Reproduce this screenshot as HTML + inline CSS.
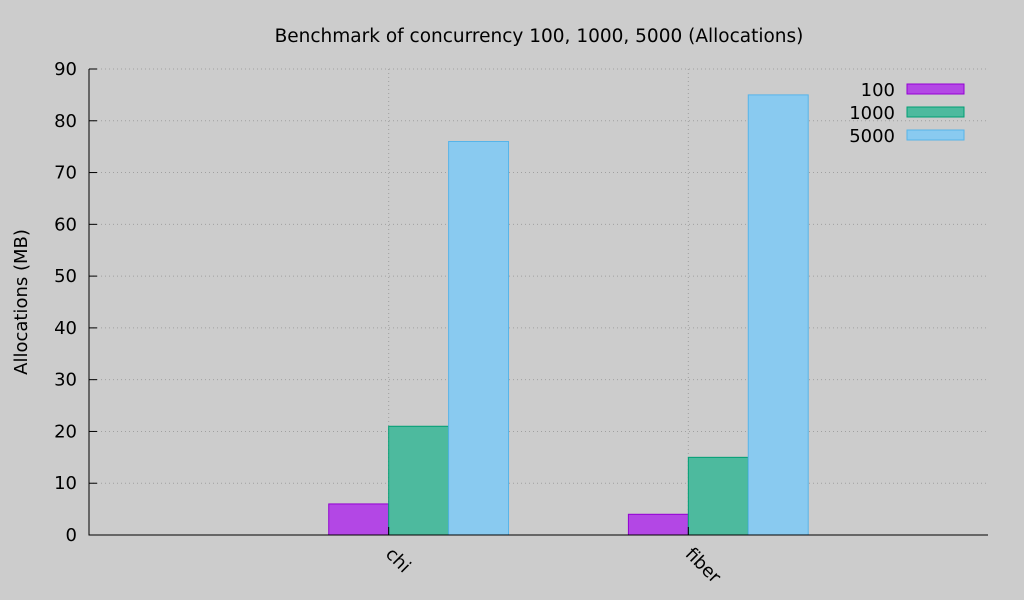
<!DOCTYPE html>
<html><head><meta charset="utf-8"><style>
html,body{margin:0;padding:0;background:#cccccc;}
svg{display:block;font-family:"DejaVu Sans","Liberation Sans",sans-serif;}
</style></head><body>
<svg id="chart" width="1024" height="600">
<rect width="1024" height="600" fill="#cccccc"/>
<text x="539" y="42" font-size="18.5" text-anchor="middle">Benchmark of concurrency 100, 1000, 5000 (Allocations)</text>
<text transform="translate(27,302) rotate(-90)" font-size="18" text-anchor="middle">Allocations (MB)</text>
<g id="grid"></g><g id="bars"></g><g id="axes"></g><g id="legend"></g>
</svg>
<script>
const categories = ["chi", "fiber"];
const seriesNames = ["100", "1000", "5000"];
const values100 = [6, 4];
const values1000 = [21, 15];
const values5000 = [76, 85];
const yTicks = [0, 10, 20, 30, 40, 50, 60, 70, 80, 90];

const NS = "http://www.w3.org/2000/svg";
const L = 89, R = 988, T = 69, B = 535;
const yMax = 90;
function y(v){ return B - (v / yMax) * (B - T); }
function x(c){ return L + (c + 1) / 3 * (R - L); }
const unit = (R - L) / 3;
const fills = ["#b347e5", "#4dba9e", "#89caf0"];
const strokes = ["#9400d3", "#009e73", "#56b4e9"];
const series = [values100, values1000, values5000];
function mk(tag, attrs, parent){ const e = document.createElementNS(NS, tag); for (const k in attrs) e.setAttribute(k, attrs[k]); parent.appendChild(e); return e; }
const grid = document.getElementById("grid"), bars = document.getElementById("bars"), axes = document.getElementById("axes"), legend = document.getElementById("legend");

yTicks.forEach(t => {
  if (t > 0) {
    const g = mk("line", {x1: L, x2: R, y1: y(t), y2: y(t), stroke: "#a0a0a0", "stroke-dasharray": "1,3"}, grid);
    
    
  }
  const tk = mk("line", {x1: L, x2: L + 8, y1: y(t), y2: y(t), stroke: "#000"}, axes);
  
  
  const lb = mk("text", {x: L - 12, y: y(t) + 6, "font-size": 18, "text-anchor": "end"}, axes);
  lb.textContent = t;
  
  
});
categories.forEach((c, i) => {
  const cx = x(i);
  const g = mk("line", {x1: cx, x2: cx, y1: T, y2: B, stroke: "#a0a0a0", "stroke-dasharray": "1,3"}, grid);
  
  
  series.forEach((s, k) => {
    const bx = cx + (k - 1) * unit * 0.2;
    const r = mk("rect", {x: bx, y: y(s[i]), width: unit * 0.2, height: B - y(s[i]), fill: fills[k], stroke: strokes[k], "stroke-width": 1}, bars);
    
    
  });
  const tk = mk("line", {x1: cx, x2: cx, y1: B, y2: B - 8, stroke: "#000"}, axes);
  
  
  const lb = mk("text", {x: 0, y: 0, "font-size": 18, transform: "translate(" + (cx - 4) + "," + (B + 20) + ") rotate(45)"}, axes);
  lb.textContent = c;
  
  
});
const ax = mk("path", {d: "M" + L + " " + T + " L" + L + " " + B + " L" + R + " " + B, fill: "none", stroke: "#000"}, axes);


seriesNames.forEach((n, k) => {
  const ly = 89 + k * 23;
  const t = mk("text", {x: 895, y: ly + 7, "font-size": 18, "text-anchor": "end"}, legend);
  t.textContent = n;
  
  
  const r = mk("rect", {x: 907, y: ly - 5, width: 57, height: 10, fill: fills[k], stroke: strokes[k]}, legend);
  
  
});
</script>
</body></html>
